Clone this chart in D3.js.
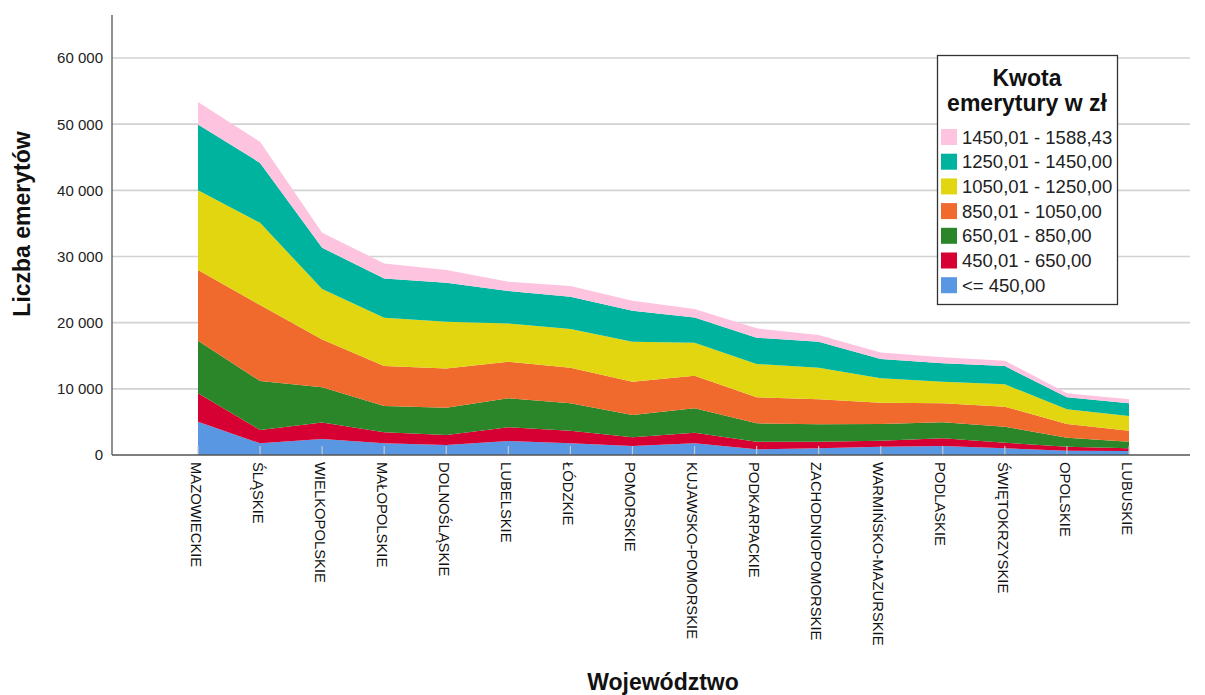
<!DOCTYPE html>
<html>
<head>
<meta charset="utf-8">
<script src="https://cdn.jsdelivr.net/npm/d3@7"></script>
<style>
  html, body { margin: 0; padding: 0; background: #fff; }
  svg { display: block; font-family: "Liberation Sans", Arial, sans-serif; }
</style>
</head>
<body>
<svg id="chart" width="1205" height="695"></svg>
<script>
// ---- DATA ----
const categories = ["MAZOWIECKIE", "ŚLĄSKIE", "WIELKOPOLSKIE", "MAŁOPOLSKIE", "DOLNOŚLĄSKIE", "LUBELSKIE", "ŁÓDZKIE", "POMORSKIE", "KUJAWSKO-POMORSKIE", "PODKARPACKIE", "ZACHODNIOPOMORSKIE", "WARMIŃSKO-MAZURSKIE", "PODLASKIE", "ŚWIĘTOKRZYSKIE", "OPOLSKIE", "LUBUSKIE"];

// series names, bottom to top of the stack
const seriesNames = ["<= 450,00", "450,01 - 650,00", "650,01 - 850,00", "850,01 - 1050,00", "1050,01 - 1250,00", "1250,01 - 1450,00", "1450,01 - 1588,43"];

const s450  = [5030, 1760, 2420, 1760, 1510, 2110, 1760, 1360, 1760,  860, 1010, 1260, 1360, 1010,  650,  600];
const s650  = [4290, 2020, 2510, 1660, 1510, 2070, 1910, 1310, 1610, 1150, 1000,  910, 1160,  850,  610,  410];
const s850  = [7950, 7400, 5300, 3980, 4130, 4380, 4140, 3370, 3680, 2780, 2630, 2510, 2420, 2420, 1350, 1000];
const s1050 = [10680, 11480, 7240, 6040, 5940, 5540, 5380, 5030, 4930, 3930, 3770, 3220, 2870, 3020, 2070, 1660];
const s1250 = [12080, 12430, 7610, 7300, 7050, 5790, 5840, 6050, 4980, 5030, 4780, 3690, 3260, 3380, 2220, 2220];
const s1450 = [9920, 9060, 6240, 5950, 5890, 4880, 4880, 4680, 3840, 3970, 3930, 2910, 2780, 2760, 1820, 1920];
const s1588 = [3420, 3180, 2270, 2270, 1920, 1410, 1620, 1510, 1250, 1420, 1010, 1010,  910,  810,  600,  600];

const seriesValues = [s450, s650, s850, s1050, s1250, s1450, s1588];
const seriesColors = ["#5a97e3", "#d60032", "#2a8628", "#f0692d", "#e2d610", "#00b39f", "#fdc3df"];

const yTicks = [0, 10000, 20000, 30000, 40000, 50000, 60000];

const yTitle = "Liczba emerytów";
const xTitle = "Województwo";
const legendTitle = ["Kwota", "emerytury w zł"];

// ---- LAYOUT ----
const svg = d3.select("#chart");
const axisX = 112, axisBottom = 455, axisTop = 15, plotRight = 1190;

const x = d3.scalePoint().domain(categories).range([axisX + 86, axisX + 1017]);
const y = d3.scaleLinear().domain([0, 66500]).range([axisBottom, axisTop]);

const locale = d3.formatLocale({decimal: ",", thousands: "\u00a0", grouping: [3], currency: ["", ""]});
const fmt = locale.format(",d");

// gridlines
svg.append("g").selectAll("line").data(yTicks.filter(d => d > 0)).join("line")
  .attr("x1", axisX).attr("x2", plotRight)
  .attr("y1", d => y(d)).attr("y2", d => y(d))
  .attr("stroke", "#d2d2d2").attr("stroke-width", 1.6);

// stacked data
const rows = categories.map((c, i) => {
  const o = {cat: c};
  seriesNames.forEach((s, k) => o[s] = seriesValues[k][i]);
  return o;
});
const stacked = d3.stack().keys(seriesNames)(rows);

const area = d3.area()
  .x(d => x(d.data.cat))
  .y0(d => y(d[0]))
  .y1(d => y(d[1]));

svg.append("g").selectAll("path").data(stacked).join("path")
  .attr("d", area)
  .attr("fill", (d, i) => seriesColors[i]);

// x ticks (inside, light)
svg.append("g").selectAll("line").data(categories).join("line")
  .attr("x1", d => x(d)).attr("x2", d => x(d))
  .attr("y1", axisBottom).attr("y2", axisBottom - 9)
  .attr("stroke", "#c8c8c8").attr("stroke-width", 1.2);

// axes lines
svg.append("line").attr("x1", axisX).attr("x2", axisX).attr("y1", axisTop).attr("y2", axisBottom)
  .attr("stroke", "#555").attr("stroke-width", 1.3);
svg.append("line").attr("x1", axisX).attr("x2", plotRight).attr("y1", axisBottom).attr("y2", axisBottom)
  .attr("stroke", "#555").attr("stroke-width", 1.3);

// y tick labels
svg.append("g").selectAll("text").data(yTicks).join("text")
  .attr("x", axisX - 9).attr("y", d => y(d)).attr("dy", "0.36em")
  .attr("text-anchor", "end").attr("font-size", 15).attr("fill", "#222")
  .text(d => fmt(d));

// x tick labels rotated
svg.append("g").selectAll("text").data(categories).join("text")
  .attr("transform", d => `translate(${x(d) - 2},${axisBottom + 7}) rotate(90)`)
  .attr("dy", "0.36em").attr("text-anchor", "start")
  .attr("font-size", 14.8).attr("fill", "#111")
  .text(d => d);

// axis titles
svg.append("text").attr("transform", `translate(30,224) rotate(-90)`)
  .attr("text-anchor", "middle").attr("font-size", 23).attr("font-weight", "bold").attr("fill", "#111")
  .text(yTitle);
svg.append("text").attr("x", 663).attr("y", 690)
  .attr("text-anchor", "middle").attr("font-size", 23).attr("font-weight", "bold").attr("fill", "#111")
  .text(xTitle);

// legend
const lg = svg.append("g");
lg.append("rect").attr("x", 937.5).attr("y", 55.5).attr("width", 180).attr("height", 249)
  .attr("fill", "#fff").attr("stroke", "#333").attr("stroke-width", 1.3);
lg.selectAll("text.lt").data(legendTitle).join("text").attr("class", "lt")
  .attr("x", 1027).attr("y", (d, i) => 86 + i * 25)
  .attr("text-anchor", "middle").attr("font-size", 23).attr("font-weight", "bold").attr("fill", "#111")
  .text(d => d);
const legendOrder = seriesNames.map((s, i) => ({name: s, color: seriesColors[i]})).reverse();
const items = lg.selectAll("g.item").data(legendOrder).join("g").attr("class", "item")
  .attr("transform", (d, i) => `translate(0,${137 + i * 24.7})`);
items.append("rect").attr("x", 941).attr("y", -8).attr("width", 16).attr("height", 16)
  .attr("fill", d => d.color);
items.append("text").attr("x", 962).attr("y", 0).attr("dy", "0.36em")
  .attr("font-size", 18.5).attr("fill", "#222")
  .text(d => d.name);
</script>
</body>
</html>
